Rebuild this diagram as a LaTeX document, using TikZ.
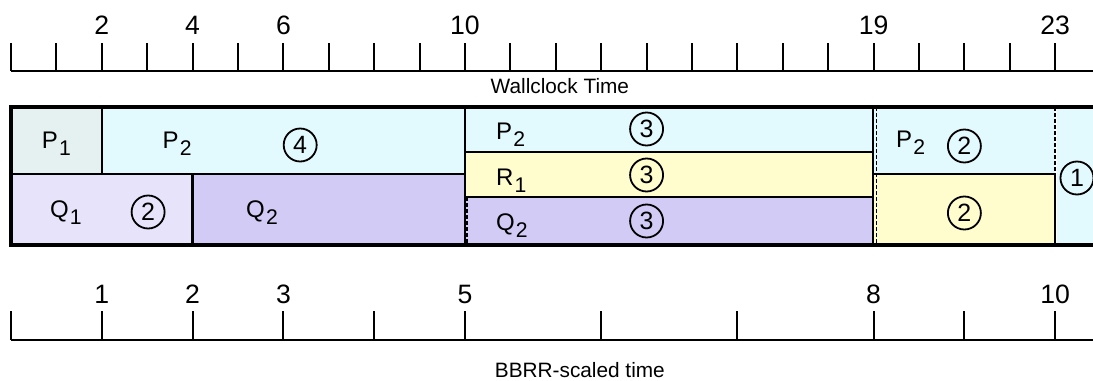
\documentclass[tikz,border=0pt]{standalone}
\usepackage{fontspec}
\setmainfont{Liberation Sans}
\usetikzlibrary{positioning}
\definecolor{pone}{HTML}{E5F1F1}
\definecolor{ptwo}{HTML}{E2F9FE}
\definecolor{qone}{HTML}{E7E3FA}
\definecolor{qtwo}{HTML}{D2CBF5}
\definecolor{rone}{HTML}{FFFDCE}
\newcommand{\flowlbl}[2]{#1\kern0.6pt\raisebox{-3.8pt}{\fontsize{10.6}{11}\selectfont #2}}
\tikzset{
  cell/.style={draw,line width=1.1pt},
  dcell/.style={line width=0.8pt,dash pattern=on 2pt off 1pt},
  share/.style={draw,circle,line width=0.9pt,inner sep=0pt,minimum size=16.5pt,font=\fontsize{12.5}{13}\selectfont},
  job/.style={anchor=base,font=\fontsize{12}{12}\selectfont},
  ticks/.style={line width=1pt},
  ticklab/.style={anchor=base,font=\fontsize{13.3}{14}\selectfont},
  axlab/.style={anchor=base,font=\fontsize{10.4}{11}\selectfont}
}

\begin{document}
\begin{tikzpicture}[x=22.7pt,y=-0.5pt,line join=miter]
\useasboundingbox (-0.2423,0) rectangle (23.833,381);
% --- wallclock axis
\foreach \t in {0,...,23} \draw[ticks] (\t,43) -- (\t,70.7);
\draw[ticks] (0,70.7) -- (24,70.7);
\foreach \t in {2,4,6,10,19,23} \node[ticklab] (w\t) at (\t,34) {\t};
\node[axlab] (wall) at (12.09,93) {Wallclock Time};
% --- time 0 to 10
\path[cell,fill=pone] (0,107) rectangle (2,174);
\path[cell,fill=ptwo] (2,107) rectangle (10,174);
\path[cell,fill=qone] (0,174) rectangle (4,245);
\path[cell,fill=qtwo] (4,174) rectangle (10,245);
\node[job] (p1) at (1,148) {\flowlbl{P}{1}};
\node[job] (p2a) at (3.66,148) {\flowlbl{P}{2}};
\node[share] (s4) at (6.37,145) {4};
\node[job] (q1) at (1.21,217) {\flowlbl{Q}{1}};
\node[share] (s2a) at (3.02,212) {2};
\node[job] (q2a) at (5.53,217) {\flowlbl{Q}{2}};
% --- time 10 to 19
\path[cell,fill=ptwo] (10,107) rectangle (19,152);
\path[cell,fill=rone] (10,152) rectangle (19,197);
\path[cell,fill=qtwo] (10,197) rectangle (19,245);
\draw[dcell] (10.05,197) -- (10.05,245);
\node[job,anchor=base west] (p2b) at (10.53,139) {\flowlbl{P}{2}};
\node[job,anchor=base west] (r1) at (10.53,185) {\flowlbl{R}{1}};
\node[job,anchor=base west] (q2b) at (10.53,230) {\flowlbl{Q}{2}};
\node[share] (s3a) at (14,129) {3};
\node[share] (s3b) at (14,175) {3};
\node[share] (s3c) at (14,221) {3};
% --- time 19 to 23
\fill[ptwo] (19,107) rectangle (23,174);
\fill[rone] (19,174) rectangle (23,245);
\draw[line width=1.1pt] (19,174) -- (23,174) -- (23,245);
\draw[dcell] (19.06,107) -- (19.06,245);
\draw[dcell] (23,107) -- (23,174);
\node[job,anchor=base west] (p2c) at (19.34,147) {\flowlbl{P}{2}};
\node[share] (s2b) at (21,146) {2};
\node[share] (s2c) at (21,213) {2};
% --- after 23
\fill[ptwo] (23.03,107) rectangle (24.5,245);
\node[share] (s1) at (23.48,178) {1};
% outer frame
\draw[line width=2.2pt] (24.5,107) -- (0,107) -- (0,245) -- (24.5,245);
% --- BBRR-scaled axis
\foreach \t/\s in {0/,2/1,4/2,6/3,8/,10/5,13/,16/,19/8,21/,23/10} {
  \draw[ticks] (\t,311) -- (\t,340);
  \node[ticklab] (b\t) at (\t,303) {\s};
}
\draw[ticks] (0,340) -- (24,340);
\node[axlab] (bbrr) at (12.53,377) {BBRR-scaled time};
\end{tikzpicture}
\end{document}
